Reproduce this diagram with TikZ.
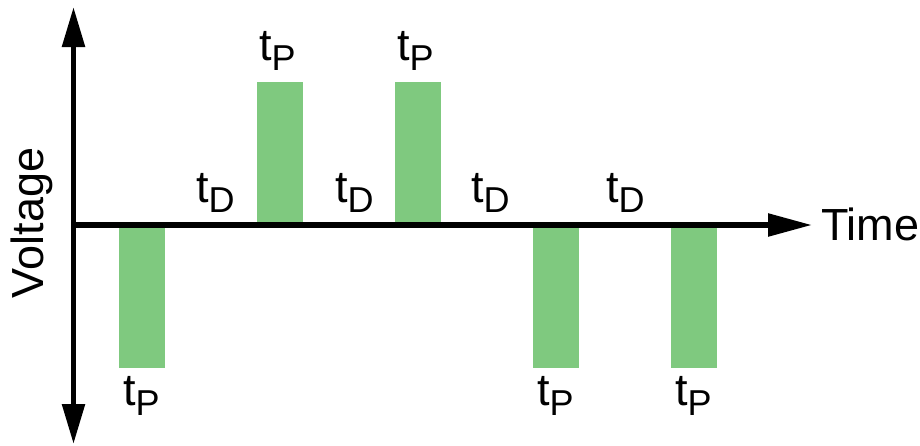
\documentclass[tikz,border=0pt]{standalone}
\usepackage{fontspec}
\setmainfont{Liberation Sans}
\usetikzlibrary{arrows.meta}
\definecolor{bargreen}{HTML}{7FC97F}
\newcommand\tlab[1]{t\raisebox{-10pt}{\fontsize{36}{36}\selectfont #1}}
\begin{document}
\begin{tikzpicture}[x=1pt,y=-1pt,
  pulse/.style={fill=bargreen, draw=none, minimum width=46pt, minimum height=143pt, inner sep=0pt, outer sep=0pt, anchor=north west},
  lbl/.style={font=\fontsize{45}{48}\selectfont, inner sep=0pt, outer sep=0pt, anchor=base west},
  axis/.style={line width=5.5pt, draw=black}]
\useasboundingbox (0,0) rectangle (920,445);
% pulses
\node[pulse] (b1) at (119,225) {};
\node[pulse] (b2) at (257,82) {};
\node[pulse] (b3) at (395,82) {};
\node[pulse] (b4) at (533,225) {};
\node[pulse] (b5) at (671,225) {};
% axes
\coordinate (vtop) at (73.5,7);
\coordinate (vbot) at (73.5,444);
\coordinate (origin) at (73.5,225);
\coordinate (hend) at (812,225);
\draw[axis, {Triangle[length=40pt,width=22pt]}-{Triangle[length=40pt,width=22pt]}] (vbot) -- (vtop);
\draw[axis, -{Triangle[length=44pt,width=22pt]}] (origin) -- (hend);
% labels
\node[lbl] (time) at (821,240) {Time};
\node[lbl, rotate=90] (volt) at (43,298) {Voltage};
\node[lbl] (p2) at (259,60) {\tlab{P}};
\node[lbl] (p3) at (397,60) {\tlab{P}};
\node[lbl] (p1) at (123,405) {\tlab{P}};
\node[lbl] (p4) at (537,405) {\tlab{P}};
\node[lbl] (p5) at (675,405) {\tlab{P}};
\node[lbl] (d1) at (196,202) {\tlab{D}};
\node[lbl] (d2) at (335,202) {\tlab{D}};
\node[lbl] (d3) at (471,202) {\tlab{D}};
\node[lbl] (d4) at (606,202) {\tlab{D}};
\end{tikzpicture}
\end{document}
